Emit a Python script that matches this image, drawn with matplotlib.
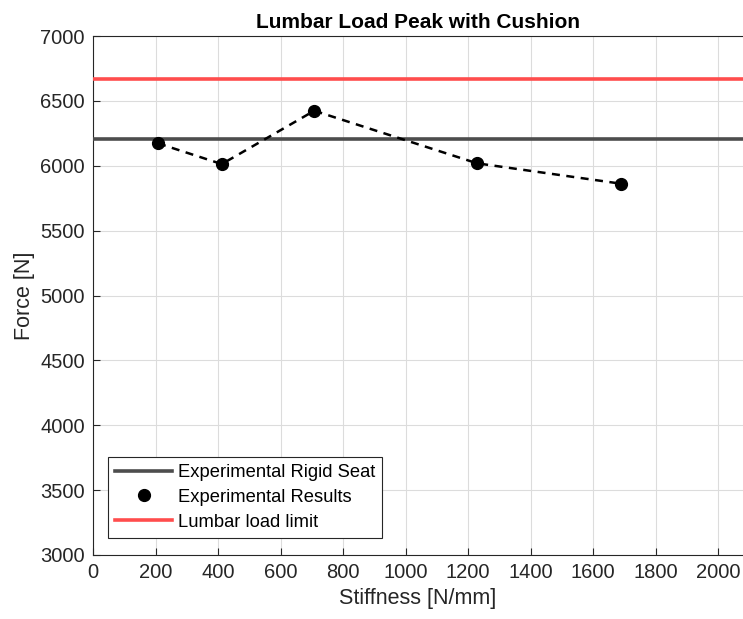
import numpy as np
import matplotlib.pyplot as plt

plt.rcParams['font.family'] = ['Liberation Sans', 'DejaVu Sans']

# measured stiffness and lumbar peak force
stiffness = [208, 412, 708, 1229, 1689]
force = [6173, 6013, 6424, 6019, 5862]
rigid_seat = 6206
load_limit = 6670

x_ticks = np.arange(0, 2001, 200)
y_ticks = np.arange(3000, 7001, 500)

fig = plt.figure(figsize=(7.43, 6.19), dpi=100)
ax = fig.add_axes([0.1252, 0.1034, 0.8748, 0.8384])

ax.axhline(rigid_seat, color='#4d4d4d', lw=2.6, label='Experimental Rigid Seat', zorder=3)
ax.plot(stiffness, force, '--', color='k', lw=1.8, dashes=(3.2, 2.6), zorder=4)
ax.plot(stiffness, force, 'o', color='k', ms=8.5, label='Experimental Results', zorder=5)
ax.axhline(load_limit, color='#ff4d4d', lw=2.6, label='Lumbar load limit', zorder=3)

ax.set_xlim(0, 2080)
ax.set_ylim(3000, 7000)
ax.set_xticks(x_ticks)
ax.set_yticks(y_ticks)
ax.grid(True, color='#dcdcdc', lw=0.8)
ax.set_axisbelow(True)
ax.tick_params(direction='in', labelsize=14.5, colors='#262626', length=5, pad=6)
ax.spines['right'].set_visible(False)
for s in ['left', 'bottom', 'top']:
    ax.spines[s].set_color('#262626')
    ax.spines[s].set_linewidth(0.8)

ax.set_xlabel('Stiffness [N/mm]', fontsize=15.5, color='#262626')
ax.set_ylabel('Force [N]', fontsize=15.5, color='#262626')
ax.set_title('Lumbar Load Peak with Cushion', fontsize=15, fontweight='bold', pad=6)

leg = ax.legend(loc='lower left', bbox_to_anchor=(0.023, 0.033), borderaxespad=0,
                fontsize=13.2, fancybox=False, edgecolor='#262626', framealpha=1,
                handlelength=3.1, handletextpad=0.3, borderpad=0.4, labelspacing=0.42)
leg.get_frame().set_linewidth(0.8)

fig.savefig('out.png', dpi=100)
